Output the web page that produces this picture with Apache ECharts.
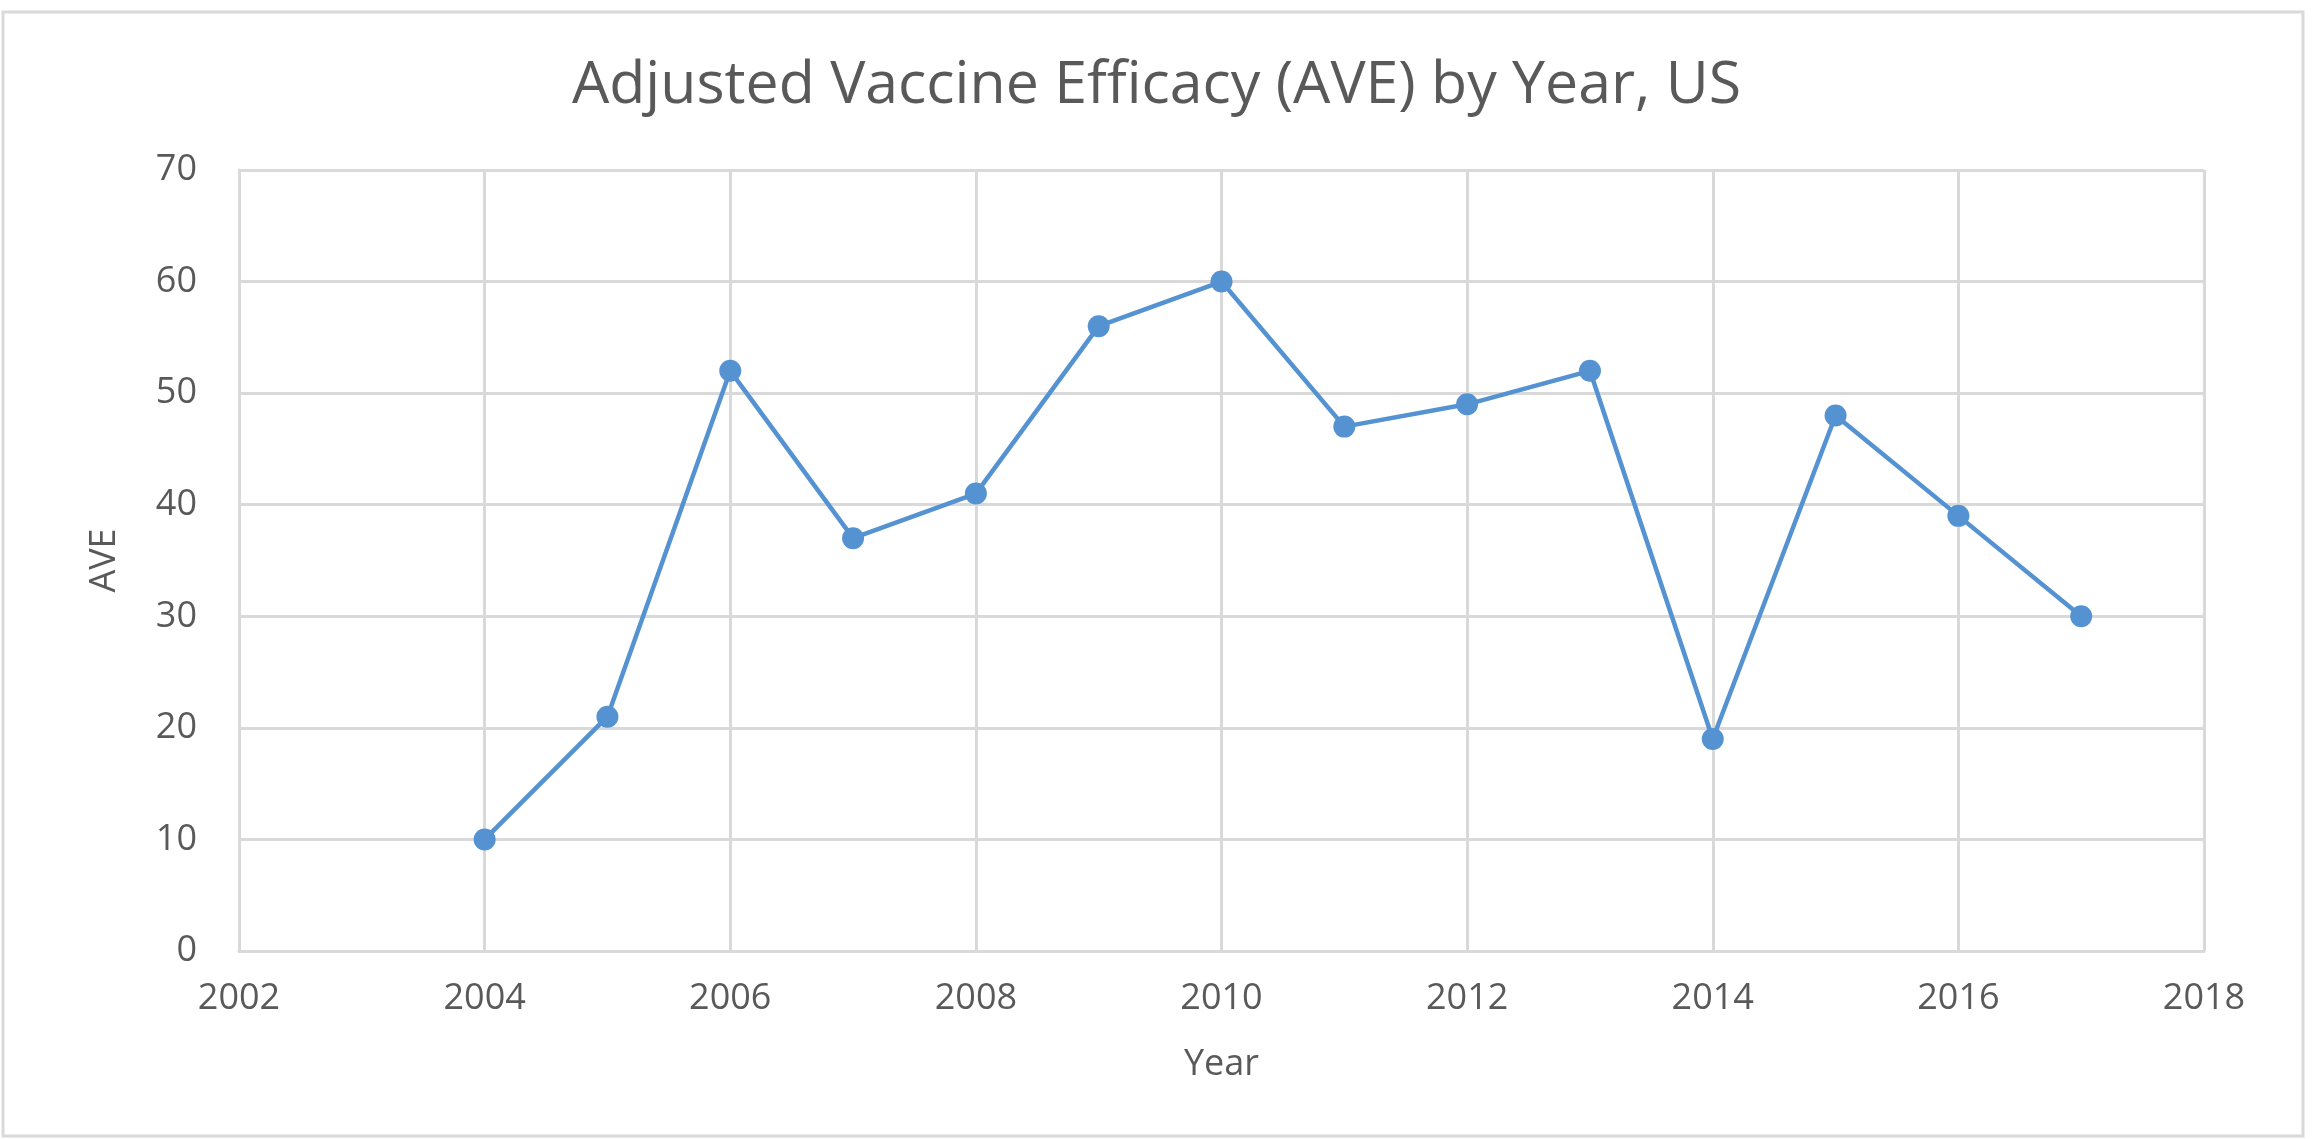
<!DOCTYPE html>
<html>
<head>
<meta charset="utf-8">
<title>Adjusted Vaccine Efficacy (AVE) by Year, US</title>
<script src="https://cdn.jsdelivr.net/npm/echarts@6/dist/echarts.min.js"></script>
<style>
  html, body { margin: 0; padding: 0; background: #ffffff; }
  #chart { width: 2313px; height: 1139px; }
</style>
</head>
<body>
<div id="chart"></div>
<script>
// Season years and adjusted vaccine efficacy (%)
const years = [2004, 2005, 2006, 2007, 2008, 2009, 2010, 2011, 2012, 2013, 2014, 2015, 2016, 2017];
const ave   = [10, 21, 52, 37, 41, 56, 60, 47, 49, 52, 19, 48, 39, 30];

const titleText = 'Adjusted Vaccine Efficacy (AVE) by Year, US';
const xAxisName = 'Year';
const yAxisName = 'AVE';

const FONT = '"Open Sans", Lato, sans-serif';
const TEXT = '#595959';
const GRID = '#d9d9d9';
const BLUE = '#5592d2';

const points = years.map((y, i) => [y, ave[i]]);

const chart = echarts.init(document.getElementById('chart'), null, { renderer: 'canvas' });
chart.setOption({
  animation: false,
  backgroundColor: '#ffffff',
  textStyle: { fontFamily: FONT },
  graphic: [{
    type: 'rect',
    shape: { x: 3, y: 12, width: 2300, height: 1124 },
    style: { fill: 'none', stroke: GRID, lineWidth: 3 },
    silent: true
  }],
  title: {
    text: titleText,
    left: 'center',
    top: 52,
    textStyle: { fontFamily: FONT, fontSize: 59, fontWeight: 'normal', color: TEXT }
  },
  grid: { left: 239, right: 109, top: 170, bottom: 188, containLabel: false },
  xAxis: {
    type: 'value',
    min: 2002, max: 2018, interval: 2,
    name: xAxisName,
    nameLocation: 'middle',
    nameGap: 96,
    nameTextStyle: { fontFamily: FONT, fontSize: 36, color: TEXT },
    axisLine: { show: true, lineStyle: { color: GRID, width: 3 } },
    axisTick: { show: false },
    axisLabel: {
      margin: 30, fontFamily: FONT, fontSize: 36, color: TEXT,
      formatter: v => String(v)
    },
    splitLine: { show: true, lineStyle: { color: GRID, width: 3 } }
  },
  yAxis: {
    type: 'value',
    min: 0, max: 70, interval: 10,
    name: yAxisName,
    nameLocation: 'middle',
    nameGap: 116,
    nameTextStyle: { fontFamily: FONT, fontSize: 36, color: TEXT },
    axisLine: { show: true, lineStyle: { color: GRID, width: 3 } },
    axisTick: { show: false },
    axisLabel: { margin: 42, fontFamily: FONT, fontSize: 36, color: TEXT },
    splitLine: { show: true, lineStyle: { color: GRID, width: 3 } }
  },
  series: [{
    type: 'line',
    data: points,
    symbol: 'circle',
    symbolSize: 22,
    lineStyle: { color: BLUE, width: 4.5 },
    itemStyle: { color: BLUE },
    z: 3
  }]
});
</script>
</body>
</html>
